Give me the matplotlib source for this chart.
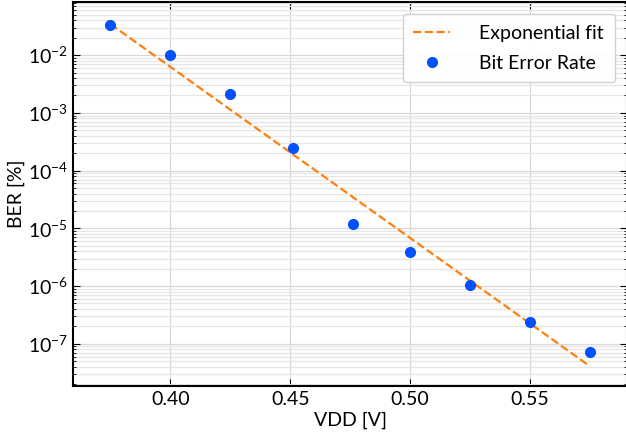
import numpy as np
import matplotlib
matplotlib.use('Agg')
import matplotlib.pyplot as plt
from matplotlib.ticker import NullFormatter

# data
vdd = [0.375, 0.400, 0.425, 0.451, 0.476, 0.500, 0.525, 0.550, 0.575]
ber = [3.3e-2, 1.0e-2, 2.1e-3, 2.45e-4, 1.2e-5, 3.9e-6, 1.05e-6, 2.4e-7, 7.3e-8]
# exponential fit line (straight on log axis), end points
fit_x = [0.375, 0.575]
fit_y = [3.45e-2, 4.1e-8]

plt.rcParams['font.family'] = ['Lato', 'DejaVu Sans']
plt.rcParams['mathtext.fontset'] = 'custom'
plt.rcParams['mathtext.rm'] = 'Lato'
plt.rcParams['mathtext.it'] = 'Lato:italic'
plt.rcParams['font.size'] = 14

fig = plt.figure(figsize=(6.26, 4.36), dpi=100)
ax = fig.add_axes([73 / 626, 50 / 436, 554 / 626, 384 / 436])

ax.plot(fit_x, fit_y, '--', color='#ff7f0e', linewidth=1.6, label='Exponential fit')
ax.plot(vdd, ber, 'o', color='#0050ff', markersize=7, label='Bit Error Rate')

ax.set_yscale('log')
ax.set_xlim(0.3594, 0.5905)
ax.set_ylim(10 ** -7.73, 10 ** -1.08)
ax.set_xticks([0.40, 0.45, 0.50, 0.55])
ax.yaxis.set_minor_formatter(NullFormatter())
ax.set_xlabel('VDD [V]', labelpad=3)
ax.set_ylabel('BER [%]', labelpad=2)

ax.grid(which='major', color='#d8d8d8', linewidth=0.9)
ax.grid(which='minor', axis='y', color='#e6e6e6', linewidth=0.9)
ax.tick_params(which='both', direction='in', top=True, right=True)
ax.tick_params(which='major', length=5, labelsize=14)
ax.tick_params(which='minor', length=2.5)
for s in ax.spines.values():
    s.set_linewidth(1.5)

ax.legend(loc='upper right', fontsize=14, framealpha=0.9, borderpad=0.55,
          handlelength=1.9, handletextpad=1.5, labelspacing=0.65,
          bbox_to_anchor=(0.9955, 0.993))

fig.savefig('out.png', dpi=100)
